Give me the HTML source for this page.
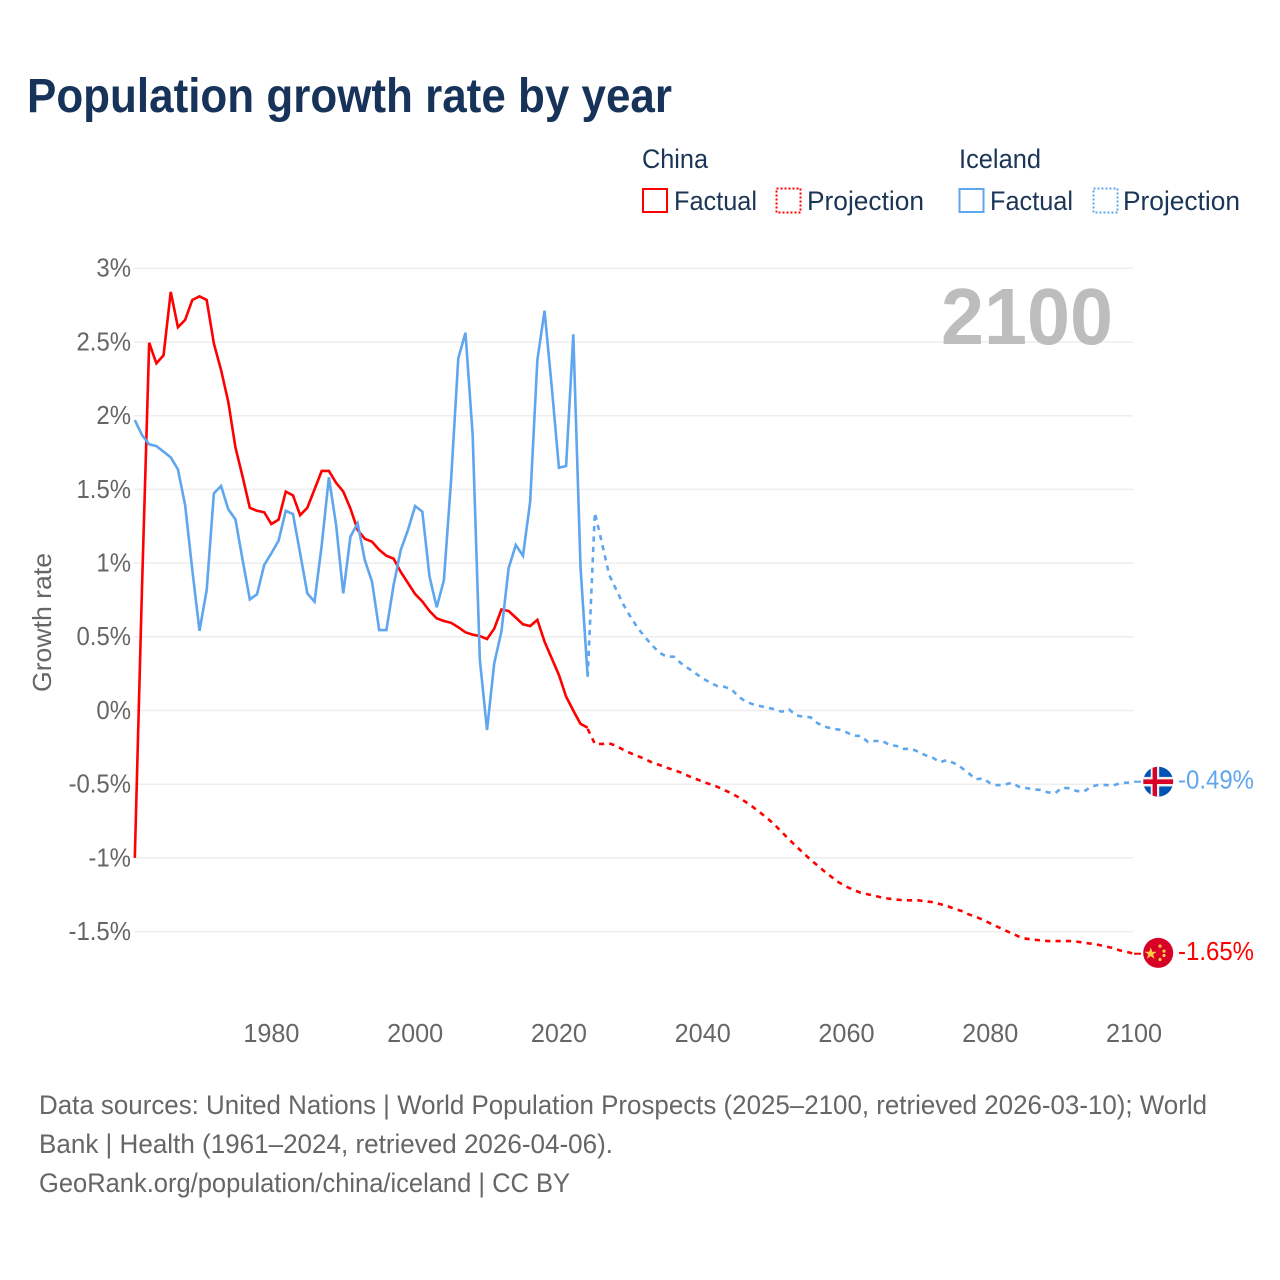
<!DOCTYPE html>
<html lang="en">
<head>
<meta charset="utf-8">
<title>Population growth rate by year</title>
<style>
  html, body { margin: 0; padding: 0; background: #ffffff; }
  svg { display: block; font-family: "Liberation Sans", sans-serif; }
  .legend-text { font-size: 27px; fill: #1b3556; }
  .tick { font-size: 26px; fill: #666666; }
  .foot { font-size: 27px; fill: #666666; }
</style>
</head>
<body>
<svg id="chart" xmlns="http://www.w3.org/2000/svg" width="1280" height="1280" viewBox="0 0 1280 1280">
  <rect x="0" y="0" width="1280" height="1280" fill="#ffffff"/>
  <text x="27" y="112" font-size="48" font-weight="700" fill="#17335a" textLength="645" lengthAdjust="spacingAndGlyphs">Population growth rate by year</text>

  <g>
    <text class="legend-text" x="642" y="168" textLength="66" lengthAdjust="spacingAndGlyphs">China</text>
    <text class="legend-text" x="959" y="168" textLength="82" lengthAdjust="spacingAndGlyphs">Iceland</text>
    <g>
      <rect x="643" y="189" width="24" height="23" fill="none" stroke="#ff0000" stroke-width="2"/>
      <text class="legend-text" x="674" y="210" textLength="83" lengthAdjust="spacingAndGlyphs">Factual</text>
    </g>
    <g>
      <rect x="776.5" y="188.5" width="24" height="24" fill="none" stroke="#ff0000" stroke-width="2" stroke-dasharray="2 2"/>
      <text class="legend-text" x="807" y="210" textLength="117" lengthAdjust="spacingAndGlyphs">Projection</text>
    </g>
    <g>
      <rect x="959.5" y="189" width="24" height="23" fill="none" stroke="#5ea6ee" stroke-width="2"/>
      <text class="legend-text" x="990" y="210" textLength="83" lengthAdjust="spacingAndGlyphs">Factual</text>
    </g>
    <g>
      <rect x="1093.5" y="188.5" width="24" height="24" fill="none" stroke="#5ea6ee" stroke-width="2" stroke-dasharray="2 2"/>
      <text class="legend-text" x="1123" y="210" textLength="117" lengthAdjust="spacingAndGlyphs">Projection</text>
    </g>
  </g>

  <g id="grid"></g>
  <g id="y-ticks"></g>
  <g id="x-ticks"></g>

  <text class="tick" transform="translate(51 622.5) rotate(-90)" text-anchor="middle" textLength="139" lengthAdjust="spacingAndGlyphs">Growth rate</text>
  <text x="1113" y="344" text-anchor="end" font-size="80" font-weight="700" fill="#bdbdbd" textLength="172" lengthAdjust="spacingAndGlyphs">2100</text>

  <g id="series"></g>

  <g id="flag-iceland">
    <clipPath id="clip-ice"><circle cx="0" cy="0" r="15"/></clipPath>
    <g clip-path="url(#clip-ice)">
      <rect x="-15" y="-15" width="30" height="30" fill="#0052b4"/>
      <rect x="-7.5" y="-15" width="8.5" height="30" fill="#f0f0f0"/>
      <rect x="-15" y="-4.8" width="30" height="9.6" fill="#f0f0f0"/>
      <rect x="-5.6" y="-15" width="4.4" height="30" fill="#d80027"/>
      <rect x="-15" y="-2.3" width="30" height="4.6" fill="#d80027"/>
    </g>
  </g>
  <g id="flag-china">
    <circle cx="0" cy="0" r="15" fill="#d80027"/>
    <polygon points="-7.5,-5.6 -6,-1.2 -1.4,-1.2 -5.1,1.5 -3.7,5.9 -7.5,3.2 -11.3,5.9 -9.9,1.5 -13.6,-1.2 -9,-1.2" fill="#ffc94a"/>
    <circle cx="1.8" cy="-6.8" r="1.6" fill="#ffc94a"/>
    <circle cx="5.8" cy="-1.8" r="1.6" fill="#ffc94a"/>
    <circle cx="5.8" cy="2.6" r="1.6" fill="#ffc94a"/>
    <circle cx="1.8" cy="6.6" r="1.6" fill="#ffc94a"/>
  </g>
  <text id="label-iceland" x="1178" font-size="26" fill="#5ea6ee" textLength="76" lengthAdjust="spacingAndGlyphs"></text>
  <text id="label-china" x="1178" font-size="26" fill="#ff0000" textLength="76" lengthAdjust="spacingAndGlyphs"></text>

  <g>
    <text class="foot" x="39" y="1114" textLength="1168" lengthAdjust="spacingAndGlyphs">Data sources: United Nations | World Population Prospects (2025–2100, retrieved 2026-03-10); World</text>
    <text class="foot" x="39" y="1153" textLength="574" lengthAdjust="spacingAndGlyphs">Bank | Health (1961–2024, retrieved 2026-04-06).</text>
    <text class="foot" x="39" y="1192" textLength="531" lengthAdjust="spacingAndGlyphs">GeoRank.org/population/china/iceland | CC BY</text>
  </g>
</svg>

<script>
const factualStartYear = 1961;
const projectionStartYear = 2024;
const yTickValues = [3, 2.5, 2, 1.5, 1, 0.5, 0, -0.5, -1, -1.5];
const xTickYears = [1980, 2000, 2020, 2040, 2060, 2080, 2100];
const chinaEndLabel = "-1.65%";
const icelandEndLabel = "-0.49%";

const chinaFactual = [
  -1.0, 0.83, 2.495, 2.355, 2.41, 2.84, 2.60, 2.65, 2.785, 2.81,
  2.785, 2.49, 2.31, 2.095, 1.785, 1.585, 1.375, 1.355, 1.345, 1.265,
  1.295, 1.485, 1.46, 1.325, 1.375, 1.50, 1.625, 1.625, 1.545, 1.485,
  1.37, 1.225, 1.165, 1.145, 1.09, 1.05, 1.03, 0.94, 0.865, 0.79,
  0.74, 0.675, 0.625, 0.607, 0.595, 0.565, 0.53, 0.515, 0.505, 0.485,
  0.555, 0.685, 0.675, 0.63, 0.585, 0.573, 0.615, 0.467, 0.354, 0.241,
  0.094, -0.001, -0.09, -0.117
];
const chinaProjection = [
  -0.125, -0.227, -0.227, -0.223, -0.24, -0.268, -0.29, -0.31, -0.33, -0.354,
  -0.37, -0.388, -0.404, -0.422, -0.444, -0.463, -0.483, -0.50, -0.517, -0.54,
  -0.562, -0.589, -0.621, -0.655, -0.693, -0.731, -0.775, -0.824, -0.874, -0.921,
  -0.967, -1.012, -1.053, -1.094, -1.132, -1.168, -1.195, -1.218, -1.236, -1.247,
  -1.258, -1.27, -1.277, -1.283, -1.288, -1.288, -1.288, -1.295, -1.30, -1.313,
  -1.326, -1.345, -1.36, -1.383, -1.40, -1.42, -1.444, -1.467, -1.49, -1.512,
  -1.534, -1.548, -1.555, -1.559, -1.564, -1.564, -1.564, -1.564, -1.568, -1.575,
  -1.582, -1.589, -1.60, -1.611, -1.627, -1.638, -1.65
];
const icelandFactual = [
  1.97, 1.869, 1.806, 1.794, 1.756, 1.717, 1.636, 1.394, 0.953, 0.541,
  0.817, 1.473, 1.523, 1.365, 1.297, 1.02, 0.754, 0.788, 0.987, 1.067,
  1.152, 1.355, 1.333, 1.067, 0.795, 0.738, 1.12, 1.582, 1.26, 0.795,
  1.18, 1.27, 1.02, 0.874, 0.546, 0.546, 0.851, 1.089, 1.225, 1.387,
  1.349, 0.908, 0.70, 0.885, 1.564, 2.389, 2.563, 1.869, 0.343, -0.132,
  0.32, 0.535, 0.965, 1.123, 1.05, 1.417, 2.378, 2.712, 2.197, 1.647,
  1.659, 2.552, 0.976, 0.229
];
const icelandProjection = [
  0.229, 1.342, 1.134, 0.919, 0.817, 0.716, 0.632, 0.557, 0.497, 0.44,
  0.392, 0.365, 0.365, 0.32, 0.286, 0.252, 0.218, 0.191, 0.166, 0.161,
  0.144, 0.094, 0.06, 0.042, 0.03, 0.02, 0.008, -0.008, 0.008, -0.033,
  -0.042, -0.046, -0.087, -0.11, -0.123, -0.13, -0.148, -0.171, -0.173, -0.214,
  -0.207, -0.207, -0.234, -0.241, -0.261, -0.259, -0.28, -0.304, -0.32, -0.351,
  -0.336, -0.358, -0.388, -0.426, -0.467, -0.46, -0.494, -0.507, -0.503, -0.49,
  -0.517, -0.526, -0.535, -0.539, -0.555, -0.562, -0.524, -0.528, -0.546, -0.551,
  -0.517, -0.505, -0.505, -0.51, -0.494, -0.49, -0.483
];

const SVG_NS = "http://www.w3.org/2000/svg";
const RED = "#ff0000";
const BLUE = "#5ea6ee";

function xScale(year) { return 134.8 + (year - 1961) * (1134 - 134.8) / (2100 - 1961); }
function yScale(value) { return 710.5 - value * 147.4; }

function make(tag, attrs, parent) {
  const el = document.createElementNS(SVG_NS, tag);
  for (const k in attrs) el.setAttribute(k, attrs[k]);
  parent.appendChild(el);
  return el;
}

const gridGroup = document.getElementById("grid");
const yTickGroup = document.getElementById("y-ticks");
const xTickGroup = document.getElementById("x-ticks");
const seriesGroup = document.getElementById("series");

yTickValues.forEach(function (v) {
  const y = yScale(v);
  const line = make("line", { x1: 134, x2: 1133, y1: y, y2: y, stroke: "#eeeeee", "stroke-width": 1.5 }, gridGroup);
  
  
  const label = make("text", { x: 131, y: y + 8.4, "text-anchor": "end", class: "tick" }, yTickGroup);
  
  
  label.textContent = v + "%";
  label.setAttribute("textLength", (label.getComputedTextLength() * 0.92).toFixed(1));
  label.setAttribute("lengthAdjust", "spacingAndGlyphs");
});

xTickYears.forEach(function (yr) {
  const label = make("text", { x: xScale(yr), y: 1042, "text-anchor": "middle", class: "tick" }, xTickGroup);
  
  
  label.textContent = String(yr);
  label.setAttribute("textLength", (label.getComputedTextLength() * 0.97).toFixed(1));
  label.setAttribute("lengthAdjust", "spacingAndGlyphs");
});

function pathFor(values, startYear) {
  return values.map(function (v, i) {
    return (i ? "L" : "M") + xScale(startYear + i).toFixed(2) + " " + yScale(v).toFixed(2);
  }).join(" ");
}

function drawLine(values, startYear, color, dashed) {
  const attrs = { d: pathFor(values, startYear), fill: "none", stroke: color, "stroke-width": 2.6 };
  if (dashed) attrs["stroke-dasharray"] = "5.2 5.2";
  return make("path", attrs, seriesGroup);
}

const chinaProjectionLine = drawLine(chinaProjection, projectionStartYear, RED, true);



const chinaFactualLine = drawLine(chinaFactual, factualStartYear, RED, false);



const icelandProjectionLine = drawLine(icelandProjection, projectionStartYear, BLUE, true);



const icelandFactualLine = drawLine(icelandFactual, factualStartYear, BLUE, false);



const endYear = projectionStartYear + chinaProjection.length - 1;
const chinaEndY = yScale(chinaProjection[chinaProjection.length - 1]);
const icelandEndY = yScale(icelandProjection[icelandProjection.length - 1]);

const chinaConnector = make("line", { x1: xScale(endYear), x2: xScale(endYear) + 7, y1: chinaEndY, y2: chinaEndY, stroke: RED, "stroke-width": 2 }, seriesGroup);



const icelandConnector = make("line", { x1: xScale(endYear), x2: xScale(endYear) + 7, y1: icelandEndY, y2: icelandEndY, stroke: BLUE, "stroke-width": 2 }, seriesGroup);



document.getElementById("flag-china").setAttribute("transform", "translate(1158.2 " + (chinaEndY - 0.8) + ")");
document.getElementById("flag-iceland").setAttribute("transform", "translate(1158.2 " + icelandEndY + ")");

const chinaText = document.getElementById("label-china");
chinaText.setAttribute("y", chinaEndY + 6.5);
chinaText.textContent = chinaEndLabel;
const icelandText = document.getElementById("label-iceland");
icelandText.setAttribute("y", icelandEndY + 7);
icelandText.textContent = icelandEndLabel;
</script>
</body>
</html>
